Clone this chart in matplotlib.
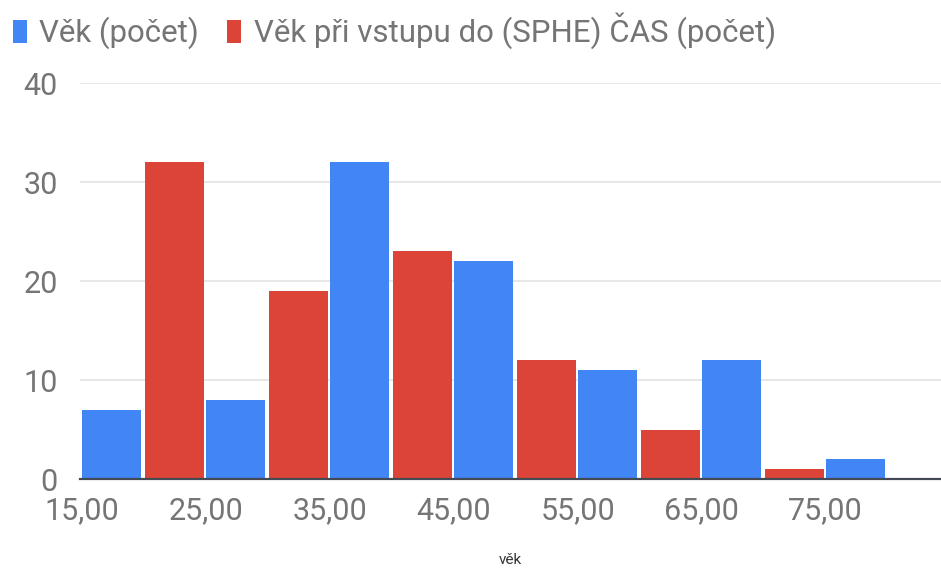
import matplotlib.pyplot as plt
import numpy as np

plt.rcParams['font.family'] = ['Roboto', 'DejaVu Sans']

# histogram buckets (10 years each), two series side by side
bucket_start = np.array([15, 25, 35, 45, 55, 65, 75])
vek = [7, 8, 32, 22, 11, 12, 2]
vek_vstup = [32, 19, 23, 12, 5, 1, 0]
tick_labels = ["15,00", "25,00", "35,00", "45,00", "55,00", "65,00", "75,00"]
y_ticks = [0, 10, 20, 30, 40]

blue = "#4285F4"
red = "#DB4437"
gray = "#757575"

fig = plt.figure(figsize=(9.41, 5.69), dpi=100)
ax = fig.add_axes([0.085, 0.158, 0.915, 0.696])

bw = 4.75
ax.bar(bucket_start, vek, width=bw, align='edge', color=blue, zorder=3,
       label="Věk (počet)")
ax.bar(bucket_start + 5.1, vek_vstup, width=bw, align='edge', color=red, zorder=3,
       label="Věk při vstupu do (SPHE) ČAS (počet)")

ax.set_xlim(14.85, 84.3)
ax.set_ylim(0, 40)
ax.set_yticks(y_ticks)
ax.set_xticks(bucket_start)
ax.set_xticklabels(tick_labels)
ax.tick_params(axis='both', length=0, labelsize=22, labelcolor=gray)
ax.tick_params(axis='y', pad=16)
ax.tick_params(axis='x', pad=12)

ax.grid(axis='y', color="#e3e3e3", linewidth=1.2, zorder=0)
for s in ['top', 'right', 'left']:
    ax.spines[s].set_visible(False)
ax.spines['bottom'].set_color("#444a55")
ax.spines['bottom'].set_linewidth(1.6)
ax.spines['bottom'].set_zorder(4)

ax.set_xlabel("věk", fontsize=11, color="#333333", labelpad=20)

fig.legend(loc='upper left', bbox_to_anchor=(0.0, 1.0), ncol=2, frameon=False,
           fontsize=22.5, labelcolor=gray, handlelength=0.45, handleheight=0.75,
           handletextpad=0.4, columnspacing=0.9, borderaxespad=0.0)

fig.savefig("out.png", dpi=100, facecolor="white")
